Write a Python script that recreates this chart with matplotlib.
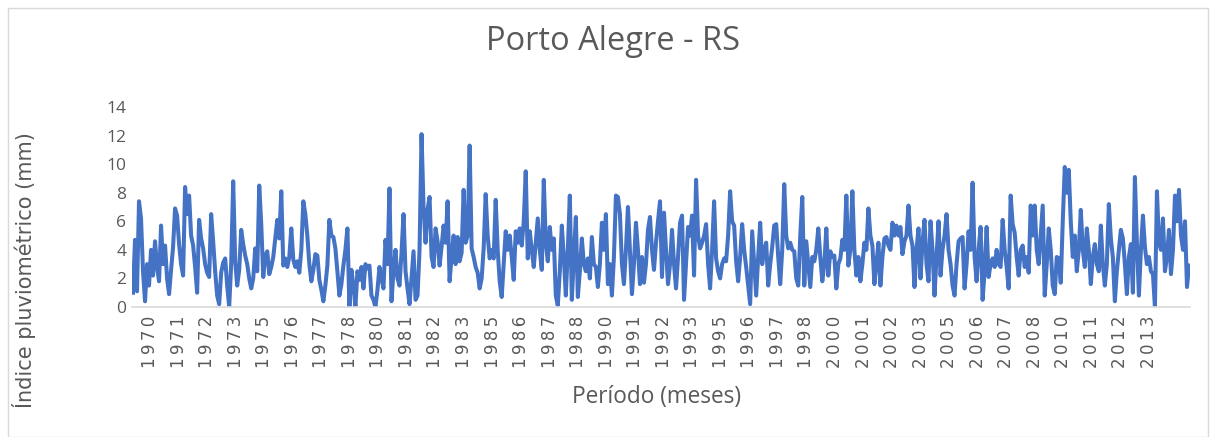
import numpy as np
import matplotlib
matplotlib.use("Agg")
import matplotlib.pyplot as plt
from matplotlib.patches import Rectangle

# valores mensais (mm), 1970-2013
chuva = {
    1970: [1.0, 4.7, 1.1, 7.4, 6.2, 2.5, 0.4, 3.0, 1.5, 4.0, 2.2, 4.6],
    1971: [2.8, 1.8, 5.7, 3.0, 4.3, 2.0, 0.9, 2.6, 4.2, 6.9, 6.4, 4.4],
    1972: [3.0, 2.2, 8.4, 6.5, 7.8, 5.0, 4.3, 2.8, 1.0, 6.1, 4.8, 4.1],
    1973: [3.0, 2.4, 2.1, 6.5, 4.6, 2.5, 0.8, 0.2, 2.4, 3.1, 3.4, 1.5],
    1974: [0.0, 3.0, 8.8, 3.2, 1.5, 2.6, 5.4, 4.4, 3.6, 3.0, 2.0, 1.3],
    1975: [2.0, 4.1, 2.5, 8.5, 5.8, 2.1, 3.6, 3.9, 2.3, 2.8, 3.5, 4.8],
    1976: [6.1, 4.8, 8.1, 2.9, 3.4, 2.8, 3.5, 5.5, 3.3, 2.8, 3.2, 2.4],
    1977: [4.0, 7.4, 6.5, 5.0, 3.0, 1.8, 2.6, 3.7, 3.6, 1.9, 1.2, 0.4],
    1978: [1.5, 2.9, 6.1, 5.0, 4.9, 4.1, 2.5, 0.8, 1.6, 2.9, 4.0, 5.5],
    1979: [0.0, 2.6, 1.5, 0.0, 2.5, 1.9, 2.8, 1.3, 3.0, 2.7, 2.9, 0.8],
    1980: [0.5, 0.0, 1.2, 2.8, 2.0, 1.3, 4.7, 3.0, 8.3, 0.4, 2.5, 4.0],
    1981: [2.0, 1.5, 3.8, 6.5, 2.5, 1.3, 0.2, 2.0, 3.9, 0.5, 0.8, 4.0],
    1982: [12.1, 7.0, 4.5, 6.8, 7.7, 3.5, 2.8, 5.5, 4.6, 2.9, 4.2, 5.7],
    1983: [4.5, 7.4, 1.8, 3.5, 5.0, 3.0, 4.9, 3.2, 3.8, 8.2, 4.5, 5.0],
    1984: [11.3, 4.1, 3.5, 2.8, 2.4, 1.3, 2.0, 4.1, 7.9, 5.0, 3.4, 4.0],
    1985: [3.4, 7.5, 4.0, 1.8, 0.7, 3.0, 5.3, 4.0, 5.0, 3.5, 1.9, 5.3],
    1986: [4.5, 5.5, 4.3, 6.0, 9.5, 3.4, 5.3, 4.0, 2.8, 4.5, 6.2, 4.0],
    1987: [2.6, 8.9, 4.5, 3.2, 5.6, 4.0, 4.8, 0.8, 0.1, 2.5, 5.7, 3.5],
    1988: [0.8, 4.0, 7.8, 0.5, 3.5, 6.3, 0.7, 2.5, 4.8, 3.0, 2.5, 3.4],
    1989: [2.0, 4.9, 3.0, 2.8, 1.4, 3.0, 5.9, 4.0, 6.5, 1.6, 3.0, 0.8],
    1990: [3.5, 7.8, 7.7, 6.5, 3.0, 1.6, 4.0, 7.0, 4.0, 0.9, 3.0, 5.9],
    1991: [4.0, 1.6, 3.5, 1.7, 3.0, 5.4, 6.3, 4.0, 2.6, 4.5, 6.0, 7.4],
    1992: [2.1, 6.6, 4.0, 1.6, 3.0, 5.4, 3.0, 1.3, 3.5, 5.9, 6.4, 0.5],
    1993: [3.0, 5.6, 5.0, 6.4, 2.2, 8.9, 5.0, 4.1, 4.5, 5.0, 5.8, 3.0],
    1994: [1.3, 4.0, 7.4, 3.4, 2.5, 2.0, 3.0, 3.4, 3.2, 5.0, 8.1, 6.0],
    1995: [5.7, 3.2, 1.8, 3.5, 5.8, 4.0, 2.8, 1.5, 0.2, 5.3, 3.0, 0.8],
    1996: [3.5, 5.9, 3.0, 4.0, 4.5, 1.5, 3.0, 4.2, 5.7, 5.8, 3.5, 1.6],
    1997: [4.0, 8.6, 5.0, 4.1, 4.5, 4.0, 3.9, 2.0, 1.5, 5.0, 7.7, 1.5],
    1998: [4.6, 3.0, 1.4, 3.5, 3.2, 4.0, 5.5, 3.5, 1.8, 3.0, 5.5, 2.2],
    1999: [3.9, 3.5, 3.6, 1.3, 3.0, 3.4, 4.7, 4.0, 7.8, 2.9, 4.0, 8.1],
    2000: [4.0, 2.2, 3.5, 1.8, 3.0, 4.5, 4.0, 6.9, 5.0, 4.3, 1.6, 3.0],
    2001: [4.5, 1.5, 3.5, 4.8, 4.9, 4.3, 4.0, 5.9, 5.0, 5.7, 5.0, 5.6],
    2002: [3.7, 4.6, 5.0, 7.1, 5.0, 4.3, 1.4, 4.0, 5.5, 2.0, 4.5, 6.1],
    2003: [3.0, 1.8, 6.0, 4.0, 0.8, 3.5, 6.0, 2.2, 4.0, 5.0, 6.5, 4.0],
    2004: [3.0, 1.5, 0.8, 3.0, 4.6, 4.8, 4.9, 1.3, 3.0, 5.3, 4.0, 8.7],
    2005: [3.5, 1.8, 4.0, 5.6, 0.5, 2.5, 5.6, 2.1, 3.0, 3.4, 2.8, 4.0],
    2006: [3.0, 2.8, 6.1, 4.0, 2.8, 1.3, 7.8, 5.8, 5.2, 3.5, 2.2, 4.0],
    2007: [4.3, 2.8, 3.5, 2.4, 7.1, 5.0, 7.1, 4.0, 3.0, 5.0, 7.1, 0.8],
    2008: [3.0, 5.5, 4.0, 1.5, 0.9, 3.5, 3.4, 1.7, 6.0, 9.8, 8.0, 9.6],
    2009: [6.0, 3.5, 5.0, 2.5, 4.0, 6.8, 4.0, 2.8, 5.5, 4.0, 1.6, 3.5],
    2010: [4.4, 3.0, 2.5, 5.7, 3.0, 1.5, 3.0, 7.2, 4.8, 3.5, 0.4, 2.5],
    2011: [4.0, 5.4, 4.8, 3.0, 0.9, 3.5, 4.4, 1.0, 9.1, 4.5, 0.8, 4.0],
    2012: [6.4, 4.2, 3.0, 3.5, 2.5, 2.3, 0.0, 8.1, 4.5, 4.0, 6.2, 2.5],
    2013: [3.5, 5.4, 2.3, 4.0, 7.8, 6.0, 8.2, 5.0, 4.0, 6.0, 1.4, 2.9],
}

anos = []
valores = []
for ano, meses in chuva.items():
    for v in meses:
        anos.append(ano)
        valores.append(v)

cinza = "#595959"
azul = "#4472C4"

fig = plt.figure(figsize=(12.16, 4.37), dpi=100)
fig.patches.append(Rectangle((8 / 1216, 0.0), 1200 / 1216, 429 / 437,
                             transform=fig.transFigure, fill=False,
                             edgecolor="#d9d9d9", linewidth=1.0))

ax = fig.add_axes([132 / 1216, 130 / 437, 1058 / 1216, 200 / 437])
x = np.arange(len(valores))
ax.plot(x, valores, color=azul, linewidth=2.9, solid_joinstyle="round")

ax.set_xlim(-0.5, len(valores) - 0.5)
ax.set_ylim(0, 14)
ax.set_yticks(range(0, 15, 2))

# rótulos do eixo x a cada 15 meses (como no Excel), espaçados como no original
idx = list(range(0, len(valores), 15))
pos = np.linspace(8.5, 507, len(idx))
ax.set_xticks(pos)
ax.set_xticklabels(["\u2009".join(str(anos[i])) for i in idx], rotation=90,
                   fontsize=12, color=cinza, family="DejaVu Sans")
for lb in ax.get_yticklabels():
    lb.set_fontsize(12.5)
    lb.set_color(cinza)
    lb.set_family("Open Sans")

ax.tick_params(axis="both", length=0)
ax.tick_params(axis="y", pad=4)
ax.tick_params(axis="x", pad=6)
for s in ["top", "right", "left"]:
    ax.spines[s].set_visible(False)
ax.spines["bottom"].set_color("#d9d9d9")
ax.spines["bottom"].set_linewidth(1.2)

fig.text(613 / 1216, 1 - 41 / 437, "Porto Alegre - RS", ha="center",
         va="center", fontsize=23.5, color=cinza, family="Open Sans")
fig.text(657 / 1216, 1 - 397 / 437, "Período (meses)", ha="center",
         va="center", fontsize=16.3, color=cinza, family="Open Sans")
fig.text(24 / 1216, 1 - 270 / 437, "Índice pluviométrico (mm)", ha="center",
         va="center", rotation=90, fontsize=15, color=cinza,
         family="DejaVu Sans")

fig.savefig("out.png", dpi=100)
